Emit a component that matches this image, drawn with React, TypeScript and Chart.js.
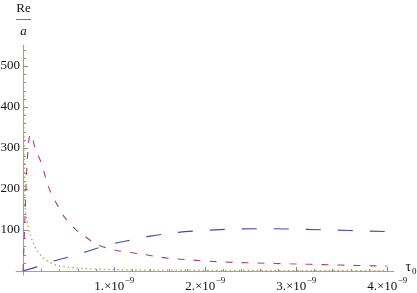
import React, { useEffect, useRef } from "react";
import { Chart, registerables } from "chart.js";

Chart.register(...registerables);

// x values in units of 1e-9
const blueX = [0, 0.15, 0.3, 0.5, 0.68, 0.85, 1.0, 1.2, 1.4, 1.7, 2.0, 2.3, 2.6, 3.0, 3.4, 3.7, 4.0];
const blueY = [0, 10, 22, 34, 46, 58, 67, 76, 85, 94, 99, 102, 103, 102, 100, 98, 96];

const magentaX = [0, 0.01, 0.02, 0.03, 0.04, 0.05, 0.065, 0.085, 0.1, 0.13, 0.165, 0.21, 0.24, 0.28, 0.32, 0.38, 0.46, 0.52, 0.58, 0.66, 0.77, 0.85, 0.96, 1.03, 1.18, 1.31, 1.5, 1.65, 1.84, 2.02, 2.2, 2.38, 2.57, 2.75, 2.93, 3.12, 3.3, 3.48, 3.67, 3.85, 4.0];
const magentaY = [0, 55, 120, 185, 240, 280, 320, 333, 328, 302, 283, 258, 234, 205, 185, 160, 130, 116, 101, 88, 70, 61, 54, 50, 45, 41, 34, 30, 27, 24, 22, 20.5, 19.5, 18.5, 17.5, 16.5, 15.5, 14.5, 13.5, 12.5, 12];

const yellowX = [0.003, 0.006, 0.01, 0.015, 0.02, 0.03, 0.045, 0.065, 0.085, 0.11, 0.135, 0.165, 0.22, 0.3, 0.385, 0.48, 0.6, 0.75, 0.9, 1.2, 1.6, 2.0, 2.5, 3.0, 3.5, 4.0];
const yellowY = [900, 520, 350, 240, 175, 145, 122, 100, 85, 70, 57, 46, 32, 20, 13, 10, 7, 5, 4, 2.5, 2, 1.5, 1.2, 1, 0.8, 0.7];

const yTickValues = [100, 200, 300, 400, 500];
const yTickLabels = ["100", "200", "300", "400", "500"];
const xTickValues = [1e-9, 2e-9, 3e-9, 4e-9];
const xTickMantissas = ["1.", "2.", "3.", "4."];
const xTickExponent = "\u22129";

const SERIF = '"Liberation Serif", "DejaVu Serif", serif';

function toPoints(xs: number[], ys: number[]) {
  return xs.map((v, i) => ({ x: v * 1e-9, y: ys[i] }));
}

const axesPlugin = {
  id: "mmaAxes",
  beforeDatasetsDraw(chart: any) {
    const { ctx, chartArea } = chart;
    const xs = chart.scales.x;
    const ys = chart.scales.y;
    const x0 = Math.round(xs.getPixelForValue(0)) + 0.5;
    const y0 = Math.round(ys.getPixelForValue(0)) + 0.5;
    ctx.save();
    ctx.strokeStyle = "#a0a0a0";
    ctx.lineWidth = 1;
    ctx.beginPath();
    ctx.moveTo(chartArea.left, y0);
    ctx.lineTo(chartArea.right, y0);
    ctx.moveTo(x0, chartArea.top);
    ctx.lineTo(x0, chartArea.bottom);
    ctx.stroke();

    // y ticks (inward, to the right)
    ctx.strokeStyle = "#8a8a8a";
    ctx.beginPath();
    for (let v = 20; v <= 540; v += 20) {
      const p = Math.round(ys.getPixelForValue(v)) + 0.5;
      const major = v % 100 === 0;
      ctx.moveTo(x0, p);
      ctx.lineTo(x0 + (major ? 4.5 : 2.5), p);
    }
    // x ticks (inward, upward)
    for (let k = 1; k <= 20; k++) {
      const p = Math.round(xs.getPixelForValue(k * 0.2e-9)) + 0.5;
      const major = k % 5 === 0;
      ctx.moveTo(p, y0);
      ctx.lineTo(p, y0 - (major ? 4.5 : 2.5));
    }
    ctx.stroke();

    ctx.fillStyle = "#111";
    ctx.font = `13px ${SERIF}`;
    ctx.textAlign = "right";
    ctx.textBaseline = "middle";
    yTickValues.forEach((v, i) => {
      ctx.fillText(yTickLabels[i], x0 - 3.5, ys.getPixelForValue(v));
    });

    ctx.textAlign = "left";
    ctx.textBaseline = "alphabetic";
    xTickValues.forEach((v, i) => {
      const main = xTickMantissas[i] + "\u00d710";
      ctx.font = `13px ${SERIF}`;
      const wm = ctx.measureText(main).width;
      ctx.font = `9px ${SERIF}`;
      const we = ctx.measureText(xTickExponent).width;
      const px = xs.getPixelForValue(v);
      const start = px - (wm + we) / 2;
      ctx.font = `13px ${SERIF}`;
      ctx.fillText(main, start, y0 + 18.5);
      ctx.font = `9px ${SERIF}`;
      ctx.fillText(xTickExponent, start + wm + 0.5, y0 + 11.5);
    });

    // axis label tau0
    ctx.font = `14px ${SERIF}`;
    ctx.fillText("\u03c4", 405.5, y0 - 1);
    ctx.font = `9px ${SERIF}`;
    ctx.fillText("0", 412, y0 + 2);

    // Re / a
    ctx.font = `13px ${SERIF}`;
    ctx.textAlign = "center";
    ctx.fillText("Re", 23.5, 12);
    ctx.font = `italic 13px ${SERIF}`;
    ctx.fillText("a", 23.5, 35);
    ctx.beginPath();
    ctx.strokeStyle = "#777";
    ctx.moveTo(16, 19.5);
    ctx.lineTo(31, 19.5);
    ctx.stroke();
    ctx.restore();
  },
};

export default function App() {
  const ref = useRef<HTMLCanvasElement | null>(null);
  useEffect(() => {
    document.body.style.margin = "0";
    const canvas = ref.current;
    if (!canvas) return;
    const chart = new Chart(canvas, {
      type: "line",
      data: {
        datasets: [
          {
            label: "blue",
            data: toPoints(blueX, blueY),
            borderColor: "#4a4aa6",
            borderWidth: 1.1,
            borderDash: [15, 17],
            pointRadius: 0,
            cubicInterpolationMode: "monotone",
            fill: false,
          },
          {
            label: "magenta",
            data: toPoints(magentaX, magentaY),
            borderColor: "#a8437c",
            borderWidth: 1.1,
            borderDash: [7, 9],
            pointRadius: 0,
            cubicInterpolationMode: "monotone",
            fill: false,
          },
          {
            label: "yellow",
            data: toPoints(yellowX, yellowY),
            borderColor: "#b3a450",
            borderWidth: 1.3,
            borderDash: [1.5, 3],
            pointRadius: 0,
            cubicInterpolationMode: "monotone",
            fill: false,
          },
        ],
      },
      options: {
        animation: false,
        responsive: false,
        events: [],
        layout: { padding: { left: 15.7, right: 22.7, top: 45, bottom: 17.5 } },
        plugins: { legend: { display: false }, tooltip: { enabled: false } },
        scales: {
          x: { type: "linear", min: -0.08e-9, max: 4.08e-9, display: false },
          y: { type: "linear", min: -11, max: 551, display: false },
        },
      },
      plugins: [axesPlugin],
    });
    return () => chart.destroy();
  }, []);
  return (
    <div style={{ width: 417, height: 293 }}>
      <canvas ref={ref} width={417} height={293} />
    </div>
  );
}
